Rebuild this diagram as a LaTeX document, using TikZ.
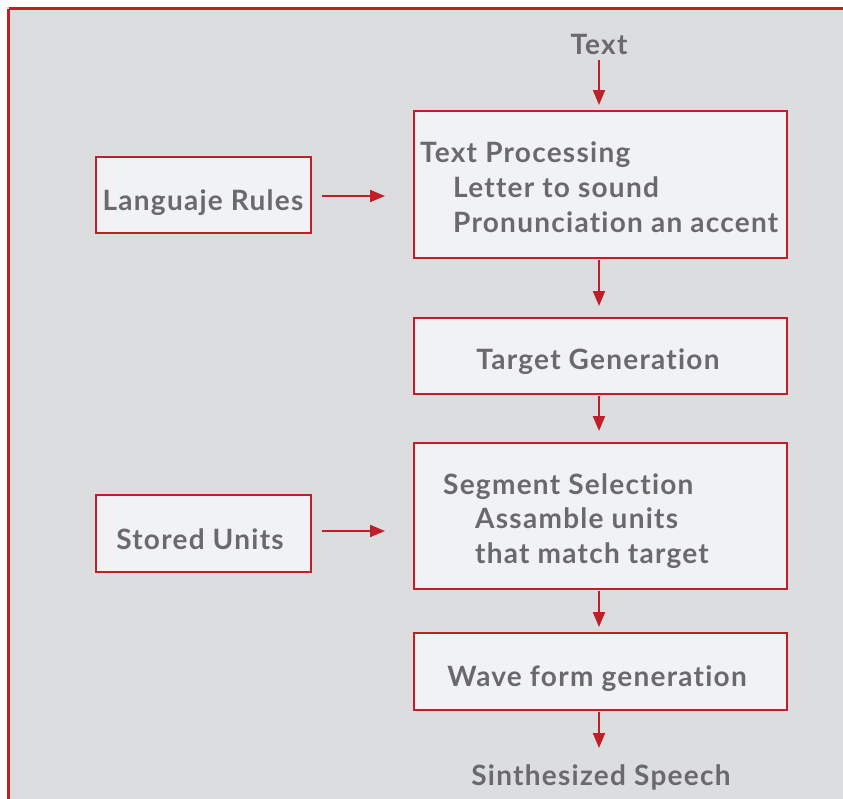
\documentclass[tikz,border=0pt]{standalone}
\usepackage{fontspec}
\setmainfont{Lato}[Ligatures=NoCommon, BoldFeatures={LetterSpace=4.5}]
\usetikzlibrary{arrows.meta}
\definecolor{bgray}{HTML}{DCDDDF}
\definecolor{bred}{HTML}{C01F2A}
\definecolor{bfill}{HTML}{F1F2F4}
\definecolor{tgray}{HTML}{6A6A6D}
\tikzset{
  box/.style={draw=bred, line width=2.5pt, fill=bfill, inner sep=0pt},
  lbl/.style={text=tgray, font=\bfseries\fontsize{28}{32}\selectfont, inner sep=0pt},
  conn/.style={draw=bred, line width=2pt, -{Triangle[length=15pt,width=12pt]}},
}
\begin{document}
\begin{tikzpicture}[x=1pt,y=-1pt]
\useasboundingbox (0,0) rectangle (843,798);
\fill[white] (0,0) rectangle (843,798);
\fill[bgray] (7,7) rectangle (860,820);
\draw[bred, line width=3pt] (8.5,8.5) -- (860,8.5);
\draw[bred, line width=3pt] (8.5,8.5) -- (8.5,820);
% boxes
\node[box, minimum width=373pt, minimum height=147pt] (tp) at (600.5,184.5) {};
\node[box, minimum width=373pt, minimum height=76pt] (tg) at (600.5,356) {};
\node[box, minimum width=373pt, minimum height=146pt] (ss) at (600.5,516) {};
\node[box, minimum width=373pt, minimum height=77pt] (wf) at (600.5,671.5) {};
\node[box, minimum width=215pt, minimum height=76pt] (lr) at (203.5,195) {};
\node[box, minimum width=215pt, minimum height=77pt] (su) at (203.5,533.5) {};
% labels
\node[lbl, anchor=base] (txt) at (599,54) {Text};
\node[lbl, anchor=base] (sp) at (601,785) {Sinthesized Speech};
\node[lbl, anchor=base west] at (420,162) {Text Processing};
\node[lbl, anchor=base west] at (453,197) {Letter to sound};
\node[lbl, anchor=base west] at (453,232) {Pronunciation an accent};
\node[lbl, anchor=base] at (598,369) {Target Generation};
\node[lbl, anchor=base west] at (443,494) {Segment Selection};
\node[lbl, anchor=base west] at (475,528) {Assamble units};
\node[lbl, anchor=base west] at (475,563) {that match target};
\node[lbl, anchor=base] at (597,686) {Wave form generation};
\node[lbl, anchor=base] at (203,210) {Languaje Rules};
\node[lbl, anchor=base] at (200,549) {Stored Units};
% connectors
\coordinate (a0) at (599,60);
\coordinate (lre) at (322,196);
\coordinate (sue) at (322,531);
\draw[conn] (a0) -- (599,105);
\draw[conn] (tp.south -| 599,0) ++(0,1) -- (599,306);
\draw[conn] (tg.south -| 599,0) ++(0,1) -- (599,431);
\draw[conn] (ss.south -| 599,0) ++(0,1) -- (599,627);
\draw[conn] (wf.south -| 599,0) ++(0,1) -- (599,748);
\draw[conn] (lre) -- (385,196);
\draw[conn] (sue) -- (385,531);
\end{tikzpicture}
\end{document}
